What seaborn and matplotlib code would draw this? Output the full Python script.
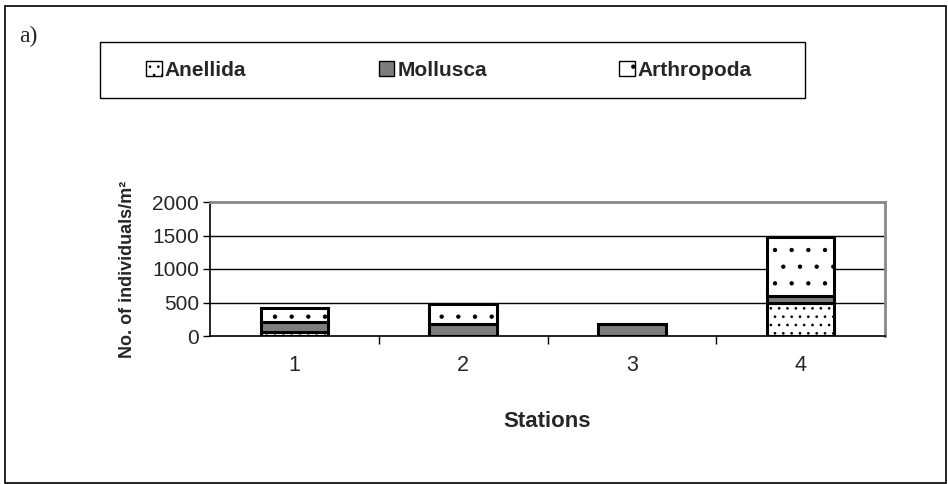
import numpy as np
import pandas as pd
import matplotlib
matplotlib.use("Agg")
import matplotlib.pyplot as plt
from matplotlib.patches import Patch, Rectangle
import seaborn as sns

# data
stations = ["1", "2", "3", "4"]
anellida = [55, 0, 0, 500]
mollusca = [150, 185, 175, 100]
arthropoda = [215, 300, 0, 880]
y_ticks = [0, 500, 1000, 1500, 2000]

sns.set_style("white")
plt.rcParams["font.family"] = ["Liberation Sans", "DejaVu Sans"]
plt.rcParams["hatch.linewidth"] = 0.7

fig = plt.figure(figsize=(9.48, 4.84), dpi=100)
ax = fig.add_axes([210 / 948, 1 - 336 / 484, 675 / 948, 134 / 484])

bottom_moll = np.array(anellida)
bottom_arth = bottom_moll + np.array(mollusca)

common = dict(edgecolor="black", linewidth=2.2, width=0.4, ax=ax, zorder=3)
sns.barplot(x=stations, y=anellida, color="white", hatch="..", **common)
sns.barplot(x=stations, y=mollusca, bottom=bottom_moll, color="#7d7d7d", **common)
sns.barplot(x=stations, y=arthropoda, bottom=bottom_arth, color="white", hatch=".", **common)

ax.set_ylim(0, 2000)
ax.set_xlim(-0.5, 3.5)
ax.set_yticks(y_ticks)
ax.tick_params(axis="y", labelsize=15, length=5, width=1, left=True, pad=3, color="black")
ax.tick_params(axis="x", labelsize=15.5, length=0, pad=14)
ax.set_xticks([0.5, 1.5, 2.5], minor=True)
ax.tick_params(axis="x", which="minor", bottom=True, length=6, width=1, color="black")

for y in y_ticks[1:-1]:
    ax.axhline(y, color="black", linewidth=1, zorder=1)

for side in ["top", "right"]:
    ax.spines[side].set_color("#888888")
    ax.spines[side].set_linewidth(2)
for side in ["left", "bottom"]:
    ax.spines[side].set_color("black")
    ax.spines[side].set_linewidth(1.2)

ax.set_xlabel("Stations", fontsize=16, fontweight="bold", labelpad=25)
ax.set_ylabel("No. of individuals/m²", fontsize=13, fontweight="bold")
ax.yaxis.set_label_coords(-0.11, 0.5)

# legend inside a framed box across the top
fig.patches.append(Rectangle((100 / 948, 1 - 98 / 484), 705 / 948, 56 / 484,
                             transform=fig.transFigure, fill=False,
                             edgecolor="black", linewidth=1))
handles = [
    Patch(facecolor="white", edgecolor="black", hatch="..", label="Anellida"),
    Patch(facecolor="#7d7d7d", edgecolor="black", label="Mollusca"),
    Patch(facecolor="white", edgecolor="black", hatch=".", label="Arthropoda"),
]
fig.legend(handles=handles, loc="center", ncol=3, mode="expand",
           bbox_to_anchor=(146 / 948, 1 - 86 / 484, 606 / 948, 32 / 484),
           frameon=False, prop={"weight": "bold", "size": 15},
           handlelength=0.75, handleheight=0.75, handletextpad=0.15,
           borderaxespad=0, borderpad=0)

fig.text(19 / 948, 1 - 36 / 484, "a)", fontsize=17,
         family=["Liberation Serif", "DejaVu Serif"], va="center")

# outer frame
fig.patches.append(Rectangle((5 / 948, 1 / 484), 941 / 948, 477 / 484,
                             transform=fig.transFigure, fill=False,
                             edgecolor="black", linewidth=1.2))

fig.savefig("out.png", dpi=100)
